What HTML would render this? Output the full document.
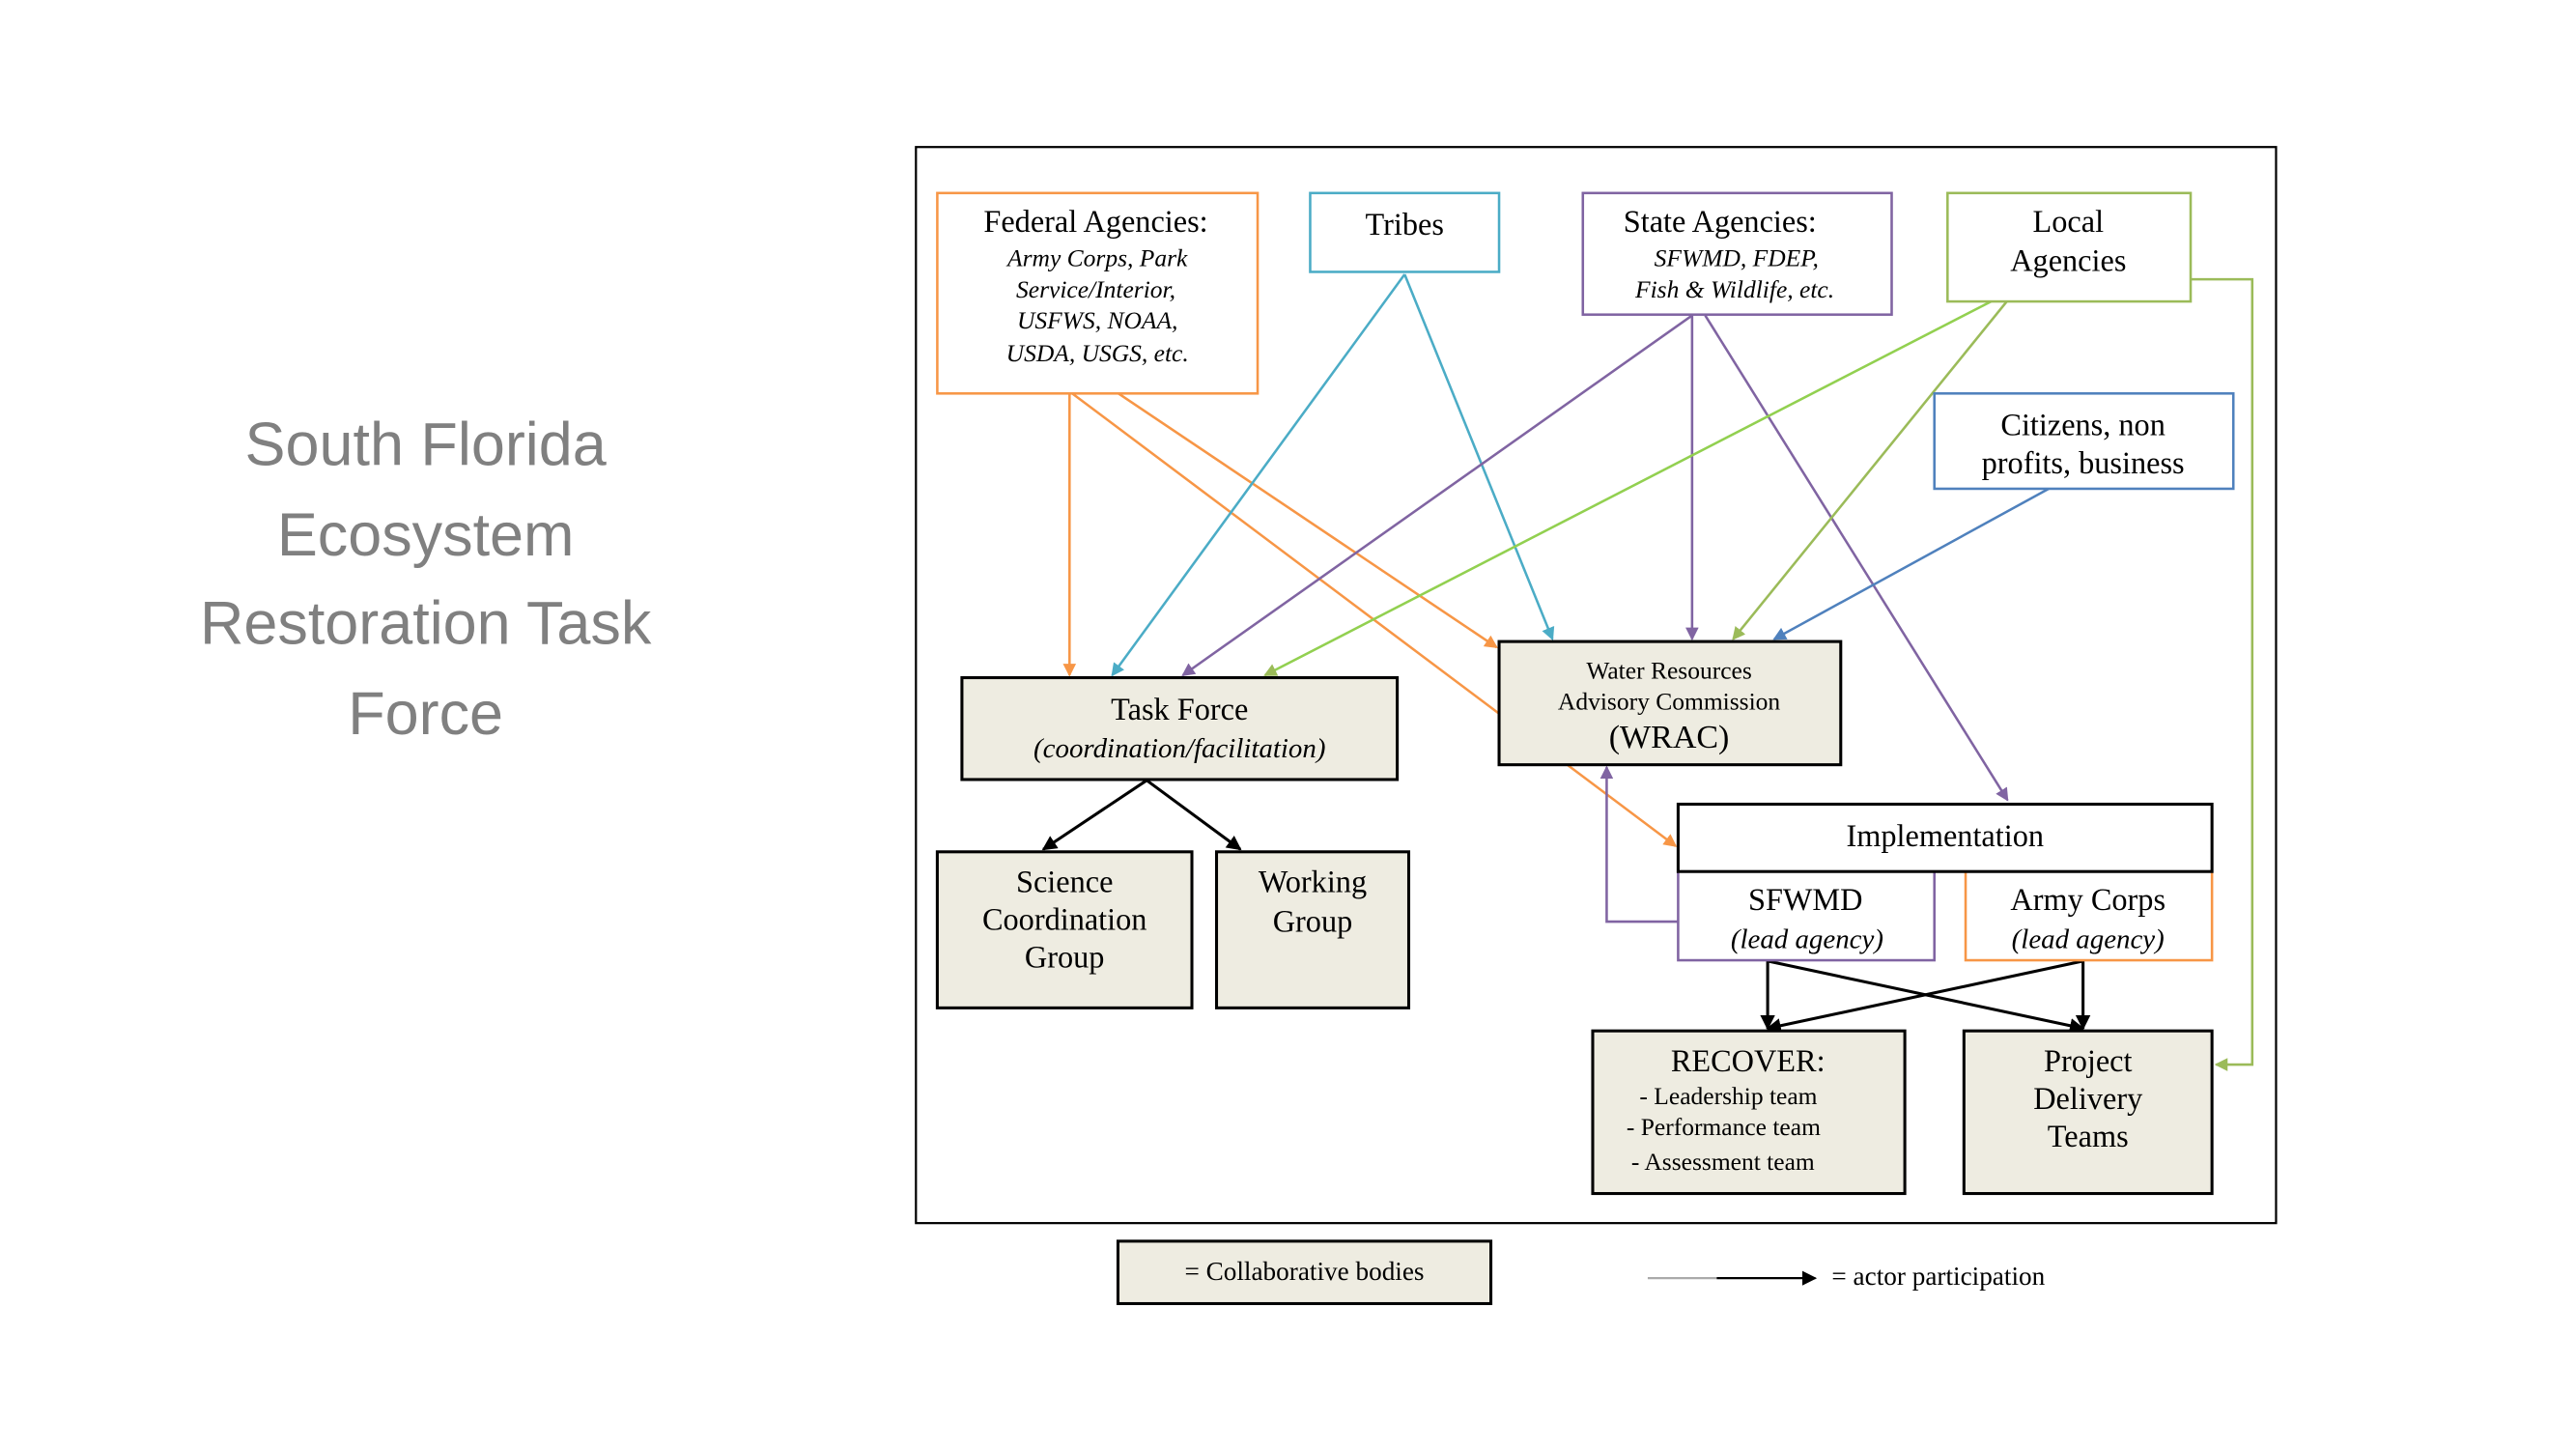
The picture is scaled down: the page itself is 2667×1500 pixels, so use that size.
<!DOCTYPE html>
<html><head><meta charset="utf-8"><style>
html,body{margin:0;padding:0;background:#fff;}
svg{display:block;}
text{font-family:"Liberation Serif",serif;fill:#000;}
.t{font-family:"Liberation Sans",sans-serif;fill:#808080;font-size:37px;}
</style></head><body>
<svg width="2667" height="1500" viewBox="0 0 1568 882" xmlns="http://www.w3.org/2000/svg">
<defs>
<marker id="ao" markerWidth="8" markerHeight="8" refX="7" refY="4" orient="auto" markerUnits="userSpaceOnUse"><path d="M0,0 L8,4 L0,8 z" fill="#f79646"/></marker>
<marker id="ac" markerWidth="8" markerHeight="8" refX="7" refY="4" orient="auto" markerUnits="userSpaceOnUse"><path d="M0,0 L8,4 L0,8 z" fill="#4bacc6"/></marker>
<marker id="ap" markerWidth="8" markerHeight="8" refX="7" refY="4" orient="auto" markerUnits="userSpaceOnUse"><path d="M0,0 L8,4 L0,8 z" fill="#8064a2"/></marker>
<marker id="ag" markerWidth="8" markerHeight="8" refX="7" refY="4" orient="auto" markerUnits="userSpaceOnUse"><path d="M0,0 L8,4 L0,8 z" fill="#9bbb59"/></marker>
<marker id="ab" markerWidth="8" markerHeight="8" refX="7" refY="4" orient="auto" markerUnits="userSpaceOnUse"><path d="M0,0 L8,4 L0,8 z" fill="#4f81bd"/></marker>
<marker id="ak" markerWidth="9" markerHeight="9" refX="8" refY="4.5" orient="auto" markerUnits="userSpaceOnUse"><path d="M0,0 L9,4.5 L0,9 z" fill="#000"/></marker>
</defs>
<text class="t" x="259" y="283" text-anchor="middle">South Florida</text>
<text class="t" x="259" y="338" text-anchor="middle">Ecosystem</text>
<text class="t" x="259" y="392" text-anchor="middle">Restoration Task</text>
<text class="t" x="259" y="447" text-anchor="middle">Force</text>

<rect x="557.5" y="89.5" width="828" height="655" fill="none" stroke="#000" stroke-width="1.3"/>

<!-- connectors -->
<g fill="none" stroke-width="1.5">
<line x1="651" y1="239" x2="651" y2="411" stroke="#f79646" marker-end="url(#ao)"/>
<line x1="652" y1="239" x2="1020" y2="515" stroke="#f79646" marker-end="url(#ao)"/>
<line x1="680" y1="239" x2="911" y2="394" stroke="#f79646" marker-end="url(#ao)"/>
<line x1="855" y1="167" x2="677" y2="411" stroke="#4bacc6" marker-end="url(#ac)"/>
<line x1="855" y1="167" x2="945" y2="389" stroke="#4bacc6" marker-end="url(#ac)"/>
<line x1="1030" y1="192" x2="720" y2="411" stroke="#8064a2" marker-end="url(#ap)"/>
<line x1="1030" y1="192" x2="1030" y2="389" stroke="#8064a2" marker-end="url(#ap)"/>
<line x1="1038" y1="192" x2="1222" y2="487" stroke="#8064a2" marker-end="url(#ap)"/>
<line x1="1213" y1="183" x2="770" y2="411" stroke="#92d050" marker-end="url(#ag)"/>
<line x1="1222" y1="183" x2="1055" y2="389" stroke="#9bbb59" marker-end="url(#ag)"/>
<polyline points="1333,170 1371,170 1371,648 1349,648" stroke="#9bbb59" marker-end="url(#ag)"/>
<line x1="1248" y1="297" x2="1080" y2="389" stroke="#4f81bd" marker-end="url(#ab)"/>
<polyline points="1021,561 978,561 978,467" stroke="#8064a2" marker-end="url(#ap)"/>
<line x1="698" y1="475" x2="635" y2="517" stroke="#000" stroke-width="1.8" marker-end="url(#ak)"/>
<line x1="698" y1="475" x2="755" y2="517" stroke="#000" stroke-width="1.8" marker-end="url(#ak)"/>
<line x1="1076" y1="585" x2="1076" y2="626" stroke="#000" stroke-width="1.8" marker-end="url(#ak)"/>
<line x1="1076" y1="585" x2="1268" y2="626" stroke="#000" stroke-width="1.8" marker-end="url(#ak)"/>
<line x1="1268" y1="585" x2="1268" y2="626" stroke="#000" stroke-width="1.8" marker-end="url(#ak)"/>
<line x1="1268" y1="585" x2="1076" y2="626" stroke="#000" stroke-width="1.8" marker-end="url(#ak)"/>
</g>

<!-- top boxes -->
<rect x="570.5" y="117.5" width="195" height="122" fill="#fff" stroke="#f79646" stroke-width="1.5"/>
<text x="667" y="141" font-size="19" text-anchor="middle">Federal Agencies:</text>
<g font-size="15" font-style="italic" text-anchor="middle">
<text x="668" y="162">Army Corps, Park</text>
<text x="667" y="181">Service/Interior,</text>
<text x="668" y="200">USFWS, NOAA,</text>
<text x="668" y="220">USDA, USGS, etc.</text>
</g>
<rect x="797.5" y="117.5" width="115" height="48" fill="#fff" stroke="#4bacc6" stroke-width="1.5"/>
<text x="855" y="143" font-size="19" text-anchor="middle">Tribes</text>
<rect x="963.5" y="117.5" width="188" height="74" fill="#fff" stroke="#8064a2" stroke-width="1.5"/>
<text x="1047" y="141" font-size="19" text-anchor="middle">State Agencies:</text>
<text x="1057" y="162" font-size="15" font-style="italic" text-anchor="middle">SFWMD, FDEP,</text>
<text x="1056" y="181" font-size="15" font-style="italic" text-anchor="middle">Fish &amp; Wildlife, etc.</text>
<rect x="1185.5" y="117.5" width="148" height="66" fill="#fff" stroke="#9bbb59" stroke-width="1.5"/>
<text x="1259" y="141" font-size="19" text-anchor="middle">Local</text>
<text x="1259" y="165" font-size="19" text-anchor="middle">Agencies</text>
<rect x="1177.5" y="239.5" width="182" height="58" fill="#fff" stroke="#4f81bd" stroke-width="1.5"/>
<text x="1268" y="265" font-size="19" text-anchor="middle">Citizens, non</text>
<text x="1268" y="288" font-size="19" text-anchor="middle">profits, business</text>

<!-- collaborative -->
<g fill="#eeece1" stroke="#000" stroke-width="1.8">
<rect x="585.5" y="412.5" width="265" height="62"/>
<rect x="912.5" y="390.5" width="208" height="75"/>
<rect x="570.5" y="518.5" width="155" height="95"/>
<rect x="740.5" y="518.5" width="117" height="95"/>
<rect x="969.5" y="627.5" width="190" height="99"/>
<rect x="1195.5" y="627.5" width="151" height="99"/>
<rect x="680.5" y="755.5" width="227" height="38"/>
</g>
<text x="718" y="438" font-size="19" text-anchor="middle">Task Force</text>
<text x="718" y="461" font-size="17" font-style="italic" text-anchor="middle">(coordination/facilitation)</text>
<text x="1016" y="413" font-size="15" text-anchor="middle">Water Resources</text>
<text x="1016" y="432" font-size="15" text-anchor="middle">Advisory Commission</text>
<text x="1016" y="455" font-size="20" text-anchor="middle">(WRAC)</text>
<text x="648" y="543" font-size="19" text-anchor="middle">Science</text>
<text x="648" y="566" font-size="19" text-anchor="middle">Coordination</text>
<text x="648" y="589" font-size="19" text-anchor="middle">Group</text>
<text x="799" y="543" font-size="19" text-anchor="middle">Working</text>
<text x="799" y="567" font-size="19" text-anchor="middle">Group</text>
<text x="1064" y="652" font-size="19" text-anchor="middle">RECOVER:</text>
<text x="998" y="672" font-size="15">- Leadership team</text>
<text x="990" y="691" font-size="15">-  Performance team</text>
<text x="993" y="712" font-size="15">-  Assessment team</text>
<text x="1271" y="652" font-size="19" text-anchor="middle">Project</text>
<text x="1271" y="675" font-size="19" text-anchor="middle">Delivery</text>
<text x="1271" y="698" font-size="19" text-anchor="middle">Teams</text>
<text x="794" y="779" font-size="16" text-anchor="middle">= Collaborative bodies</text>

<!-- implementation -->
<rect x="1021.5" y="530.5" width="156" height="54" fill="#fff" stroke="#8064a2" stroke-width="1.5"/>
<rect x="1196.5" y="530.5" width="150" height="54" fill="#fff" stroke="#f79646" stroke-width="1.5"/>
<rect x="1021.5" y="489.5" width="325" height="41" fill="#fff" stroke="#000" stroke-width="1.8"/>
<text x="1184" y="515" font-size="19" text-anchor="middle">Implementation</text>
<text x="1099" y="554" font-size="19" text-anchor="middle">SFWMD</text>
<text x="1100" y="577" font-size="17" font-style="italic" text-anchor="middle">(lead agency)</text>
<text x="1271" y="554" font-size="19" text-anchor="middle">Army Corps</text>
<text x="1271" y="577" font-size="17" font-style="italic" text-anchor="middle">(lead agency)</text>

<!-- legend arrow -->
<line x1="1003" y1="778" x2="1045" y2="778" stroke="#aaa" stroke-width="1.3"/>
<line x1="1045" y1="778" x2="1105" y2="778" stroke="#000" stroke-width="1.3" marker-end="url(#ak)"/>
<text x="1115" y="782" font-size="16">=  actor participation</text>
</svg>
</body></html>
